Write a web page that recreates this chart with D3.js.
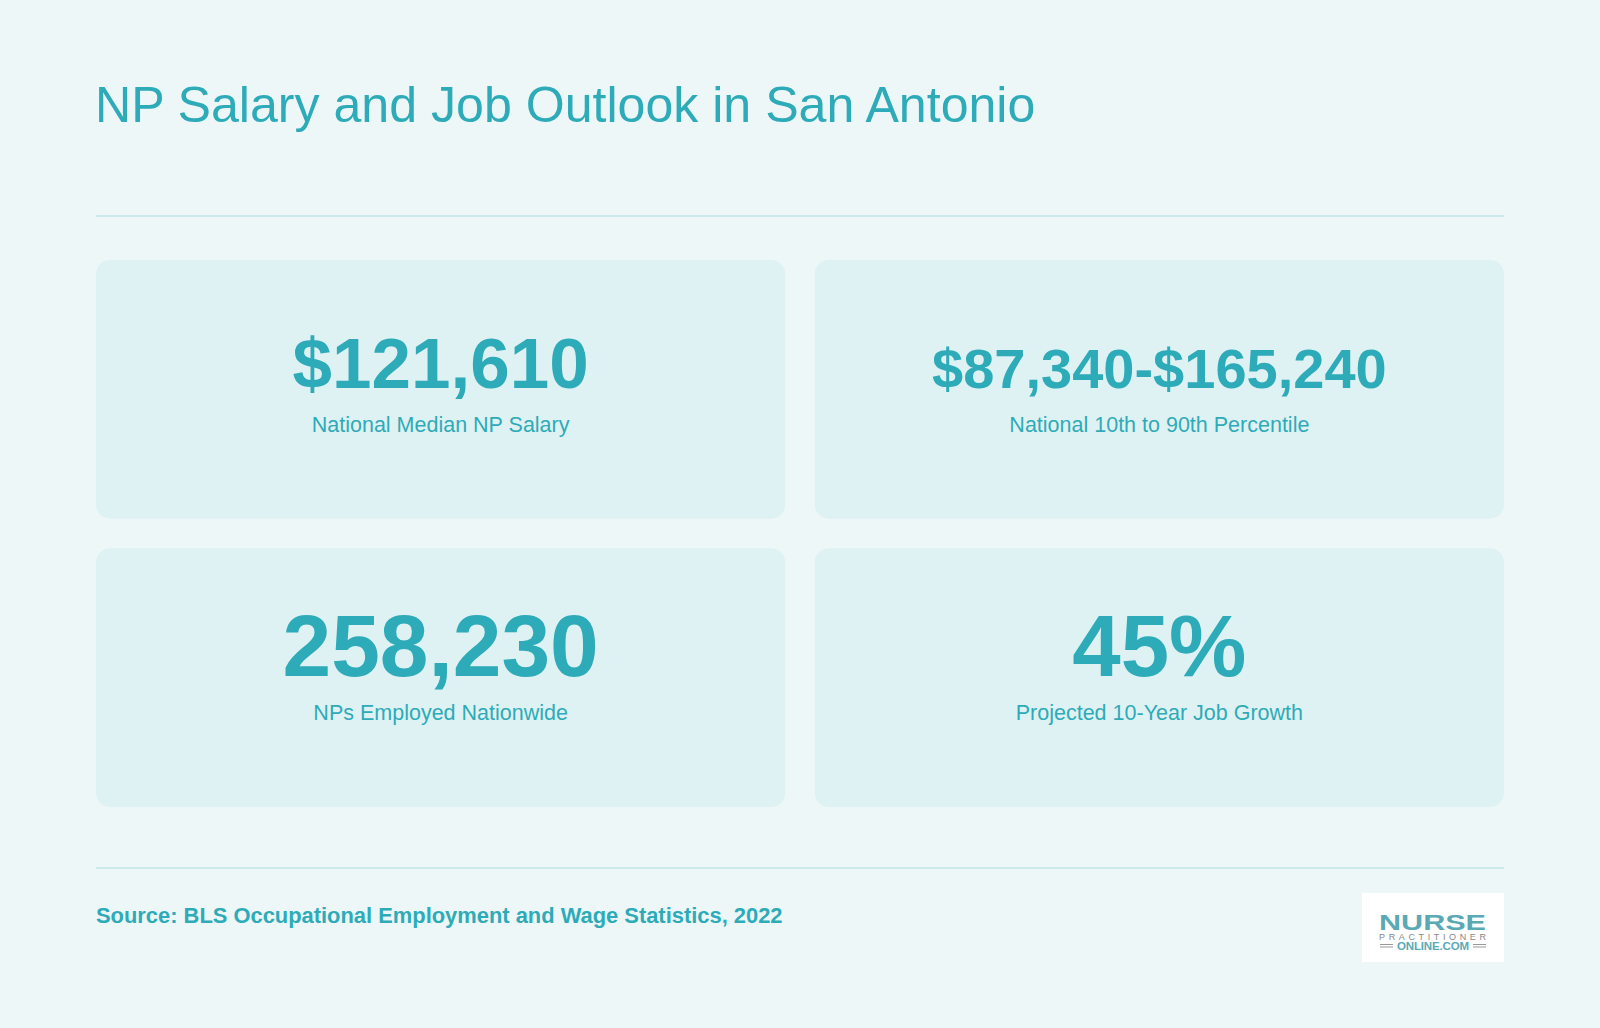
<!DOCTYPE html>
<html><head><meta charset="utf-8">
<script src="https://cdn.jsdelivr.net/npm/d3@7"></script>
<style>body{margin:0;background:#eef7f8}svg{display:block}</style>
</head><body>
<script>
const title = "NP Salary and Job Outlook in San Antonio";
const values = ["$121,610", "$87,340-$165,240", "258,230", "45%"];
const labels = ["National Median NP Salary", "National 10th to 90th Percentile", "NPs Employed Nationwide", "Projected 10-Year Job Growth"];
const valueSizes = [71, 56, 87.5, 87];
const source = "Source: BLS Occupational Employment and Wage Statistics, 2022";

const W = 1600, H = 1028, C = "#2eabb8", F = "'Liberation Sans', Arial, sans-serif";
const svg = d3.select("body").append("svg").attr("width", W).attr("height", H);
svg.append("rect").attr("width", W).attr("height", H).attr("fill", "#eef7f8");
svg.append("text").attr("x", 95).attr("y", 122).attr("fill", C).attr("font-family", F).attr("font-size", 50.1).text(title);
[216, 868].forEach(y => svg.append("line").attr("x1", 96).attr("x2", 1504).attr("y1", y).attr("y2", y).attr("stroke", "#bfe3e7").attr("stroke-width", 1.5));

const x = d3.scaleBand().domain([0, 1]).range([96, 1504]).paddingInner(0.041).paddingOuter(0);
const y = d3.scaleBand().domain([0, 1]).range([260, 807]).paddingInner(0.103).paddingOuter(0);
const cw = x.bandwidth(), ch = y.bandwidth();
const cards = svg.selectAll("g.card").data(values.map((v, i) => ({v, l: labels[i], s: valueSizes[i], c: i % 2, r: Math.floor(i / 2)})))
  .enter().append("g").attr("transform", d => `translate(${x(d.c)},${y(d.r)})`);
cards.append("rect").attr("width", cw).attr("height", ch).attr("rx", 14).attr("fill", "#dff2f3");
cards.append("text").attr("x", cw / 2).attr("y", 128).attr("text-anchor", "middle").attr("fill", C)
  .attr("font-family", F).attr("font-weight", "bold").attr("font-size", d => d.s).text(d => d.v);
cards.append("text").attr("x", cw / 2).attr("y", 172).attr("text-anchor", "middle").attr("fill", C)
  .attr("font-family", F).attr("font-size", 21.5).text(d => d.l);

svg.append("text").attr("x", 96).attr("y", 923).attr("fill", C).attr("font-family", F).attr("font-weight", "bold").attr("font-size", 21.9).text(source);

const lg = svg.append("g").attr("transform", "translate(1362,893)");
lg.append("rect").attr("width", 142).attr("height", 69).attr("fill", "#fff");
lg.append("text").attr("x", 17).attr("y", 37).attr("fill", "#5aaab6").attr("font-family", F).attr("font-weight", "bold").attr("font-size", 22).attr("textLength", 107).attr("lengthAdjust", "spacingAndGlyphs").text("NURSE");
lg.append("text").attr("x", 17).attr("y", 47).attr("fill", "#888").attr("font-family", F).attr("font-size", 9).attr("textLength", 107).text("PRACTITIONER");
lg.append("text").attr("x", 71).attr("y", 57).attr("text-anchor", "middle").attr("fill", "#5aaab6").attr("font-family", F).attr("font-weight", "bold").attr("font-size", 11.5).attr("textLength", 72).text("ONLINE.COM");
[[18, 31], [111, 124]].forEach(([a, b]) => [51.5, 54].forEach(yy => lg.append("line").attr("x1", a).attr("x2", b).attr("y1", yy).attr("y2", yy).attr("stroke", "#999").attr("stroke-width", 1)));
</script>
</body></html>
